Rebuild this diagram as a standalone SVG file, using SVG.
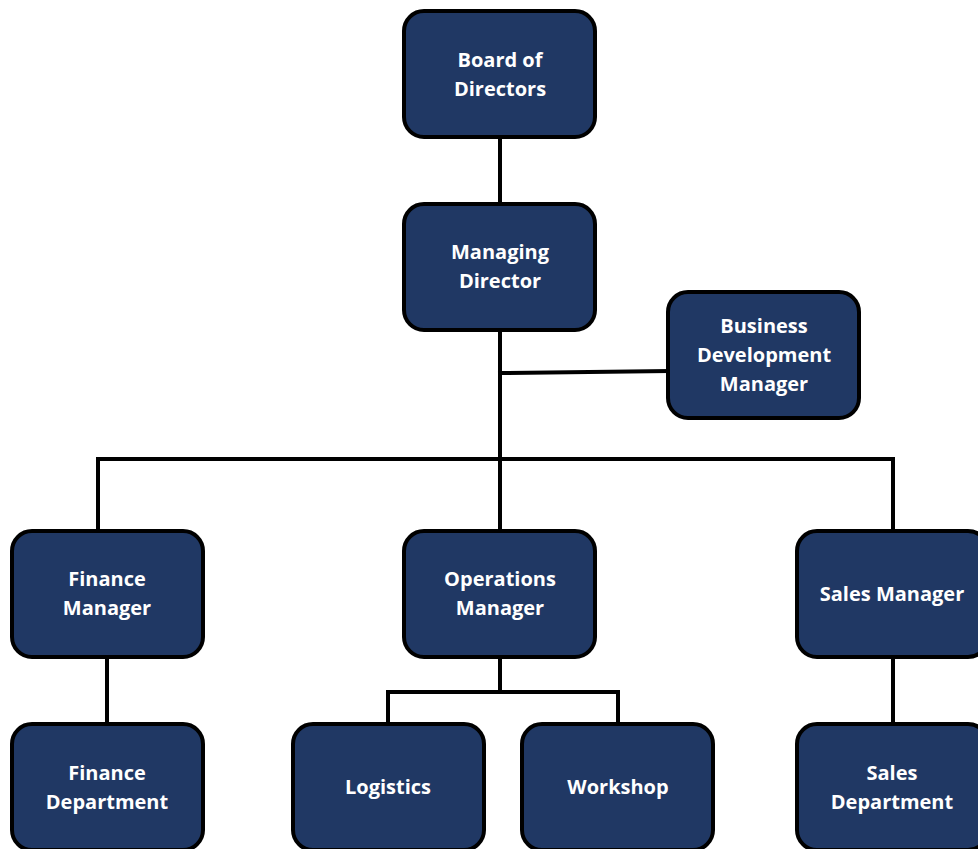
<svg xmlns="http://www.w3.org/2000/svg" width="978" height="849" viewBox="0 0 978 849">
<style>
.box{fill:#203864;stroke:#000;stroke-width:4}
.lbl{fill:#fff;font-family:"Open Sans","Liberation Sans",sans-serif;font-weight:700;font-size:20px;text-anchor:middle}
.con{fill:none;stroke:#000;stroke-width:4;stroke-linecap:square}
</style>
<rect width="978" height="849" fill="#fff"/>
<g id="connectors">
<path class="con" d="M500,137V204"/>
<path class="con" d="M500,330V531"/>
<path class="con" d="M500,373L668,371"/>
<path class="con" d="M98,531V459H893V531"/>
<path class="con" d="M107,657V724"/>
<path class="con" d="M500,657V692"/>
<path class="con" d="M388,724V692H618V724"/>
<path class="con" d="M893,657V724"/>
</g>
<g id="board"><rect class="box" x="404" y="11" width="191" height="126" rx="20"/><text class="lbl" x="500" y="67">Board of</text><text class="lbl" x="500" y="96">Directors</text></g>
<g id="md"><rect class="box" x="404" y="204" width="191" height="126" rx="20"/><text class="lbl" x="500" y="259">Managing</text><text class="lbl" x="500" y="288">Director</text></g>
<g id="bdm"><rect class="box" x="668" y="292" width="191" height="126" rx="20"/><text class="lbl" x="764" y="333">Business</text><text class="lbl" x="764" y="362">Development</text><text class="lbl" x="764" y="391">Manager</text></g>
<g id="fm"><rect class="box" x="12" y="531" width="191" height="126" rx="20"/><text class="lbl" x="107" y="586">Finance</text><text class="lbl" x="107" y="615">Manager</text></g>
<g id="om"><rect class="box" x="404" y="531" width="191" height="126" rx="20"/><text class="lbl" x="500" y="586">Operations</text><text class="lbl" x="500" y="615">Manager</text></g>
<g id="sm"><rect class="box" x="797" y="531" width="191" height="126" rx="20"/><text class="lbl" x="892" y="601">Sales Manager</text></g>
<g id="fd"><rect class="box" x="12" y="724" width="191" height="126" rx="20"/><text class="lbl" x="107" y="780">Finance</text><text class="lbl" x="107" y="809">Department</text></g>
<g id="log"><rect class="box" x="293" y="724" width="191" height="126" rx="20"/><text class="lbl" x="388" y="794">Logistics</text></g>
<g id="ws"><rect class="box" x="522" y="724" width="191" height="126" rx="20"/><text class="lbl" x="618" y="794">Workshop</text></g>
<g id="sd"><rect class="box" x="797" y="724" width="191" height="126" rx="20"/><text class="lbl" x="892" y="780">Sales</text><text class="lbl" x="892" y="809">Department</text></g>
</svg>
